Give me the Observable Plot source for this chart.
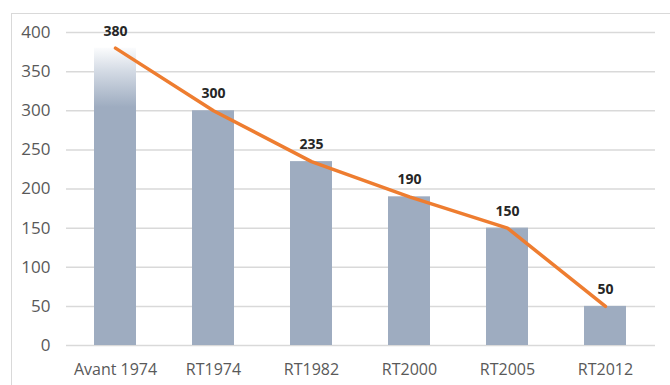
<!DOCTYPE html>
<html>
<head>
<meta charset="utf-8">
<script src="https://cdn.jsdelivr.net/npm/d3@7"></script>
<script src="https://cdn.jsdelivr.net/npm/@observablehq/plot@0.6"></script>
<style>
  html, body { margin: 0; padding: 0; background: #fff; }
  #wrap { position: relative; width: 670px; height: 385px; overflow: hidden; }
  #frame { position: absolute; left: 11px; top: 13px; width: 700px; height: 400px;
           border-left: 1.5px solid #d9d9d9; border-top: 1.5px solid #d9d9d9; }
  #chart { position: absolute; left: 0; top: 0; }
</style>
</head>
<body>
<div id="wrap"><div id="frame"></div><div id="chart"></div></div>
<script>
// Energy consumption by thermal regulation (kWh/m²/an)
const categories = ["Avant 1974", "RT1974", "RT1982", "RT2000", "RT2005", "RT2012"];
const values = [380, 300, 235, 190, 150, 50];
const yTicks = [0, 50, 100, 150, 200, 250, 300, 350, 400];

const data = categories.map((c, i) => ({cat: c, value: values[i], first: i === 0}));

const barColor = "#9eacc0";
const lineColor = "#ee7d30";
const axisColor = "#595959";

const chart = Plot.plot({
  width: 670,
  height: 385,
  marginLeft: 66,
  marginRight: 15,
  marginTop: 32,
  marginBottom: 40,
  style: {fontFamily: "'Open Sans', Lato, sans-serif", background: "transparent"},
  x: {domain: categories, paddingInner: 0.57, paddingOuter: 0.285, label: null},
  y: {domain: [0, 400], label: null},
  marks: [
    () => {
      const svgNS = "http://www.w3.org/2000/svg";
      const defs = document.createElementNS(svgNS, "defs");
      const grad = document.createElementNS(svgNS, "linearGradient");
      grad.setAttribute("id", "fadeTop");
      grad.setAttribute("x1", "0"); grad.setAttribute("y1", "0");
      grad.setAttribute("x2", "0"); grad.setAttribute("y2", "1");
      [["0", "#fbfcfd"], ["0.08", "#d3dae4"], ["0.2", barColor]].forEach(([o, c]) => {
        const s = document.createElementNS(svgNS, "stop");
        s.setAttribute("offset", o); s.setAttribute("stop-color", c);
        grad.appendChild(s);
      });
      defs.appendChild(grad);
      return defs;
    },
    Plot.gridY(yTicks, {stroke: "#d9d9d9", strokeOpacity: 1, strokeWidth: 1.5}),
    Plot.axisY(yTicks, {tickSize: 0, tickPadding: 16, fontSize: 17, color: axisColor, label: null}),
    Plot.axisX({tickSize: 0, tickPadding: 18, fontSize: 16, color: axisColor, label: null}),
    Plot.barY(data, {x: "cat", y: "value", fill: d => d.first ? "url(#fadeTop)" : barColor}),
    Plot.line(data, {x: "cat", y: "value", stroke: lineColor, strokeWidth: 3.5}),
    Plot.text(data, {x: "cat", y: "value", text: d => String(d.value), dy: -17,
      fontWeight: "bold", fontSize: 14, fill: "#262626"})
  ]
});

document.getElementById("chart").appendChild(chart);
</script>
</body>
</html>
